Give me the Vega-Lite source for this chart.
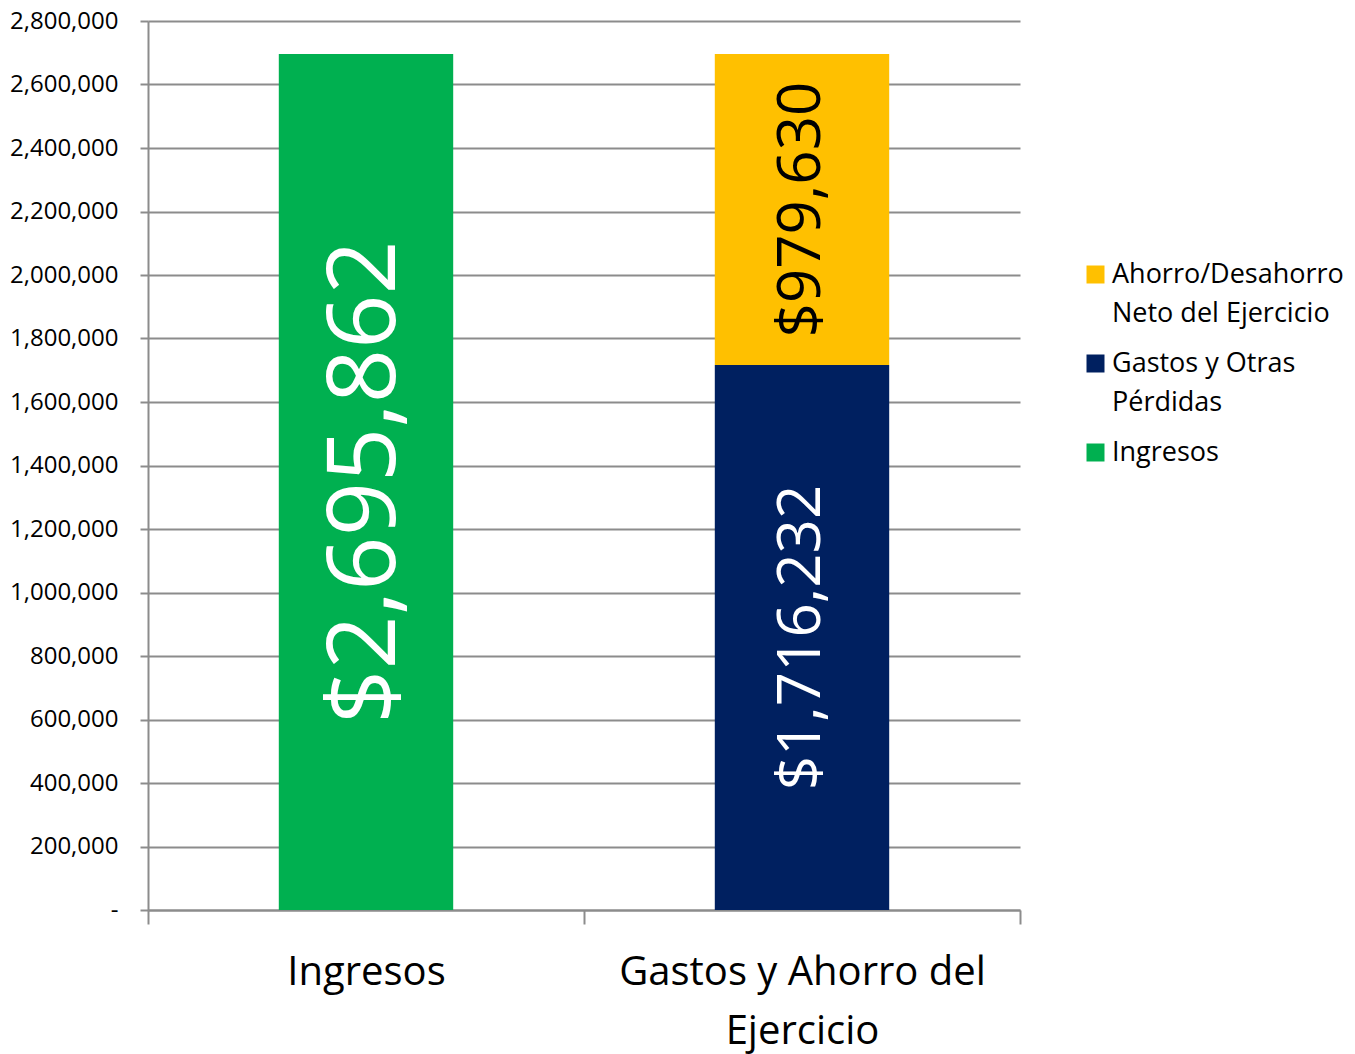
{
  "$schema": "https://vega.github.io/schema/vega-lite/v6.json",
  "autosize": "none",
  "width": 872,
  "height": 889,
  "padding": {"left": 148, "top": 21, "right": 335, "bottom": 144},
  "background": "white",
  "config": {
    "font": "Open Sans",
    "view": {"stroke": null}
  },
  "data": {
    "values": [
      {"grupo": "Ingresos", "concepto": "Ingresos", "monto": 2695862, "orden": 1, "etiqueta": "$2,695,862"},
      {"grupo": "Gastos y Ahorro del Ejercicio", "concepto": "Gastos y Otras Pérdidas", "monto": 1716232, "orden": 2, "etiqueta": "$1,716,232"},
      {"grupo": "Gastos y Ahorro del Ejercicio", "concepto": "Ahorro/Desahorro Neto del Ejercicio", "monto": 979630, "orden": 3, "etiqueta": "$979,630"}
    ]
  },
  "transform": [
    {"stack": "monto", "groupby": ["grupo"], "sort": [{"field": "orden"}], "as": ["y0", "y1"]},
    {"calculate": "(datum.y0 + datum.y1) / 2", "as": "ymid"}
  ],
  "encoding": {
    "x": {
      "field": "grupo",
      "type": "nominal",
      "sort": ["Ingresos", "Gastos y Ahorro del Ejercicio"],
      "scale": {"paddingInner": 0, "paddingOuter": 0},
      "axis": {
        "title": null,
        "labelAngle": 0,
        "labelFontSize": 40,
        "labelColor": "#000000",
        "labelPadding": 28,
        "labelLineHeight": 59,
        "labelBaseline": "top",
        "labelLimit": 800,
        "labelExpr": "datum.label == 'Gastos y Ahorro del Ejercicio' ? ['Gastos y Ahorro del', 'Ejercicio'] : datum.label",
        "tickBand": "extent",
        "tickSize": 14,
        "tickColor": "#8c8c8c",
        "tickWidth": 2,
        "domainColor": "#8c8c8c",
        "domainWidth": 2,
        "grid": false
      }
    }
  },
  "layer": [
    {
      "mark": {"type": "bar", "width": {"band": 0.4}},
      "encoding": {
        "y": {
          "field": "y1",
          "type": "quantitative",
          "scale": {"domain": [0, 2800000], "nice": false},
          "axis": {
            "title": null,
            "values": [0, 200000, 400000, 600000, 800000, 1000000, 1200000, 1400000, 1600000, 1800000, 2000000, 2200000, 2400000, 2600000, 2800000],
            "labelExpr": "datum.value == 0 ? '-' : format(datum.value, ',')",
            "labelFontSize": 24,
            "labelColor": "#000000",
            "labelPadding": 22,
            "tickSize": 8,
            "tickColor": "#8c8c8c",
            "tickWidth": 2,
            "domainColor": "#8c8c8c",
            "domainWidth": 2,
            "grid": true,
            "gridColor": "#8c8c8c",
            "gridWidth": 2
          }
        },
        "y2": {"field": "y0"},
        "color": {
          "field": "concepto",
          "type": "nominal",
          "scale": {
            "domain": ["Ahorro/Desahorro Neto del Ejercicio", "Gastos y Otras Pérdidas", "Ingresos"],
            "range": ["#FFC000", "#002060", "#00B050"]
          },
          "legend": {
            "title": null,
            "orient": "none",
            "legendX": 934,
            "legendY": 240,
            "symbolType": "square",
            "symbolSize": 324,
            "symbolStrokeWidth": 0,
            "labelFontSize": 27,
            "labelColor": "#000000",
            "labelLimit": 300,
            "labelOffset": 3,
            "rowPadding": 22,
            "labelExpr": "datum.label == 'Ahorro/Desahorro Neto del Ejercicio' ? ['Ahorro/Desahorro', 'Neto del Ejercicio'] : datum.label == 'Gastos y Otras Pérdidas' ? ['Gastos y Otras', 'Pérdidas'] : datum.label",
            "encode": {"labels": {"update": {"lineHeight": {"value": 39}}}}
          }
        }
      }
    },
    {
      "transform": [{"filter": "datum.concepto == 'Ingresos'"}],
      "mark": {"type": "text", "angle": 270, "align": "center", "baseline": "middle", "fontSize": 95, "color": "#FFFFFF"},
      "encoding": {
        "y": {"field": "ymid", "type": "quantitative"},
        "text": {"field": "etiqueta"}
      }
    },
    {
      "transform": [{"filter": "datum.concepto == 'Gastos y Otras Pérdidas'"}],
      "mark": {"type": "text", "angle": 270, "align": "center", "baseline": "middle", "fontSize": 60, "color": "#FFFFFF"},
      "encoding": {
        "y": {"field": "ymid", "type": "quantitative"},
        "text": {"field": "etiqueta"}
      }
    },
    {
      "transform": [{"filter": "datum.concepto == 'Ahorro/Desahorro Neto del Ejercicio'"}],
      "mark": {"type": "text", "angle": 270, "align": "center", "baseline": "middle", "fontSize": 60, "color": "#000000"},
      "encoding": {
        "y": {"field": "ymid", "type": "quantitative"},
        "text": {"field": "etiqueta"}
      }
    }
  ]
}
